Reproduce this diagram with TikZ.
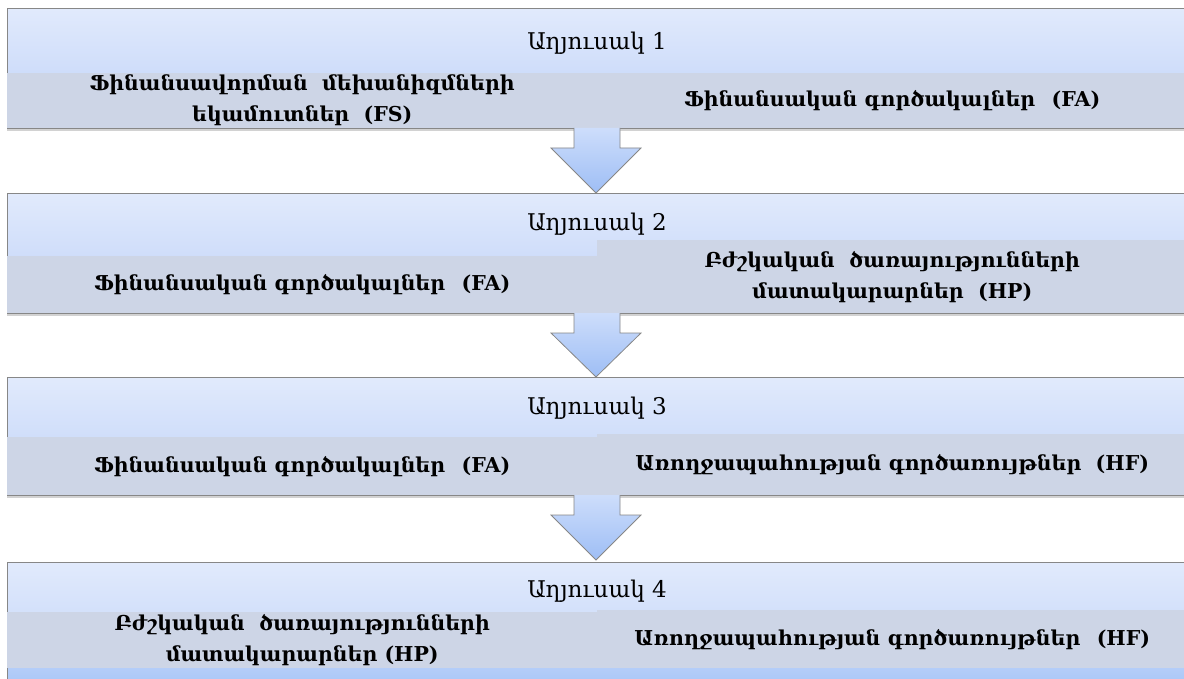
\documentclass[tikz,border=0pt]{standalone}
\usepackage{fontspec}
\setmainfont{DejaVu Serif}
\usetikzlibrary{shadows}
\definecolor{boxtop}{RGB}{225,234,252}
\definecolor{boxmid}{RGB}{208,222,250}
\definecolor{boxbot}{RGB}{168,198,248}
\definecolor{band}{RGB}{205,213,230}
\definecolor{arrtop}{RGB}{205,221,251}
\definecolor{arrbot}{RGB}{158,190,245}
\definecolor{edge}{RGB}{135,135,135}
\tikzset{
  stage/.style={draw=edge, line width=0.8pt, top color=boxtop, bottom color=boxbot, middle color=boxmid,
    drop shadow={opacity=0.35, shadow xshift=0pt, shadow yshift=-3pt},
    anchor=north west, inner sep=0pt},
  bandbox/.style={fill=band, draw=none, anchor=north west, inner sep=0pt, align=center,
    font=\bfseries\fontsize{20.5}{31}\selectfont},
  title/.style={font=\fontsize{23}{26}\selectfont, text=black},
  flow/.style={draw=edge, line width=0.8pt, top color=arrtop, bottom color=arrbot}
}
\begin{document}
\begin{tikzpicture}[x=1pt,y=-1pt]
\useasboundingbox (0,0) rectangle (1184,679);
\clip (0,0) rectangle (1184,679);
\fill[white] (0,0) rectangle (1184,679);
% stages
\node[stage, minimum width=1200, minimum height=120] (s1) at (7,8) {};
\node[stage, minimum width=1200, minimum height=120] (s2) at (7,193) {};
\node[stage, minimum width=1200, minimum height=118] (s3) at (7,377) {};
\node[stage, minimum width=1200, minimum height=124] (s4) at (7,562) {};
% titles
\node[title] (t1) at (597,43) {Աղյուսակ 1};
\node[title] (t2) at (597,224) {Աղյուսակ 2};
\node[title] (t3) at (597,408) {Աղյուսակ 3};
\node[title] (t4) at (597,591) {Աղյուսակ 4};
% bands
\node[bandbox, minimum width=590, minimum height=55] (l1) at (7,73) {Ֆինանսավորման\ \ մեխանիզմների\\եկամուտներ\ \ (FS)};
\node[bandbox, minimum width=590, minimum height=55] (r1) at (597,73) {Ֆինանսական գործակալներ\hspace{0.8em}(FA)};
\node[bandbox, minimum width=590, minimum height=57] (l2) at (7,256) {Ֆինանսական գործակալներ\hspace{0.8em}(FA)};
\node[bandbox, minimum width=590, minimum height=73] (r2) at (597,240) {Բժշկական\ \ ծառայությունների\\մատակարարներ\ \ (HP)};
\node[bandbox, minimum width=590, minimum height=58] (l3) at (7,437) {Ֆինանսական գործակալներ\hspace{0.8em}(FA)};
\node[bandbox, minimum width=590, minimum height=61] (r3) at (597,434) {Առողջապահության գործառույթներ\ \ (HF)};
\node[bandbox, minimum width=590, minimum height=56] (l4) at (7,612) {Բժշկական\ \ ծառայությունների\\մատակարարներ\ (HP)};
\node[bandbox, minimum width=590, minimum height=58] (r4) at (597,610) {Առողջապահության գործառույթներ\hspace{0.8em}(HF)};
% arrows
\draw[flow] (574,128) -- (574,148) -- (551,148) -- (596,193) -- (641,148) -- (620,148) -- (620,128);
\draw[flow] (574,313) -- (574,333) -- (551,333) -- (596,377) -- (641,333) -- (620,333) -- (620,313);
\draw[flow] (574,495) -- (574,515) -- (551,515) -- (596,560) -- (641,515) -- (620,515) -- (620,495);
\end{tikzpicture}
\end{document}
